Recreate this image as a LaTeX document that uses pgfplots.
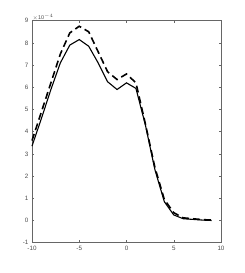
\documentclass[border=0pt]{standalone}
\usepackage{pgfplots}
\pgfplotsset{compat=1.18}
\usepackage{fontspec}
\setmainfont{Liberation Sans}
\begin{document}
\begin{tikzpicture}
\path[use as bounding box] (-32bp,-30.3bp) rectangle (213bp,242.7bp);
\begin{axis}[
  at={(0,0)}, anchor=south west,
  scale only axis, width=189bp, height=222bp,
  xmin=-10, xmax=10, ymin=-1, ymax=9,
  xtick={-10,-5,0,5,10}, ytick={-1,0,...,9},
  tick align=inside, major tick length=2.5bp,
  axis line style={black!60, line width=0.5pt},
  every tick/.style={black!60, line width=0.5pt},
  ticklabel style={font=\fontsize{6.3}{7}\selectfont, text=black!70},
  /pgf/number format/assume math mode=true,
  clip=false,
]
\addplot[black, line width=1.1pt] coordinates {
(-10,3.35) (-9,4.6) (-8,5.9) (-7,7.1) (-6,7.9) (-5,8.15) (-4,7.85) (-3,7.1) (-2,6.25) (-1,5.9) (0,6.2) (1,5.95) (2,4.3) (3,2.3) (4,0.85) (5,0.25) (6,0.08) (7,0.05) (8,0.02) (9,0.0)};
\addplot[black, line width=1.6pt, dash pattern=on 7bp off 4bp] coordinates {
(-10,3.6) (-9,4.9) (-8,6.2) (-7,7.5) (-6,8.45) (-5,8.75) (-4,8.5) (-3,7.6) (-2,6.7) (-1,6.35) (0,6.6) (1,6.2) (2,4.35) (3,2.4) (4,0.95) (5,0.35) (6,0.12) (7,0.08) (8,0.04) (9,0.02)};
\node[anchor=south west, inner sep=0.5bp, font=\fontsize{5.5}{6}\selectfont, text=black!70] at (rel axis cs:0,1) {$\times$10$^{-4}$};
\end{axis}
\end{tikzpicture}
\end{document}
